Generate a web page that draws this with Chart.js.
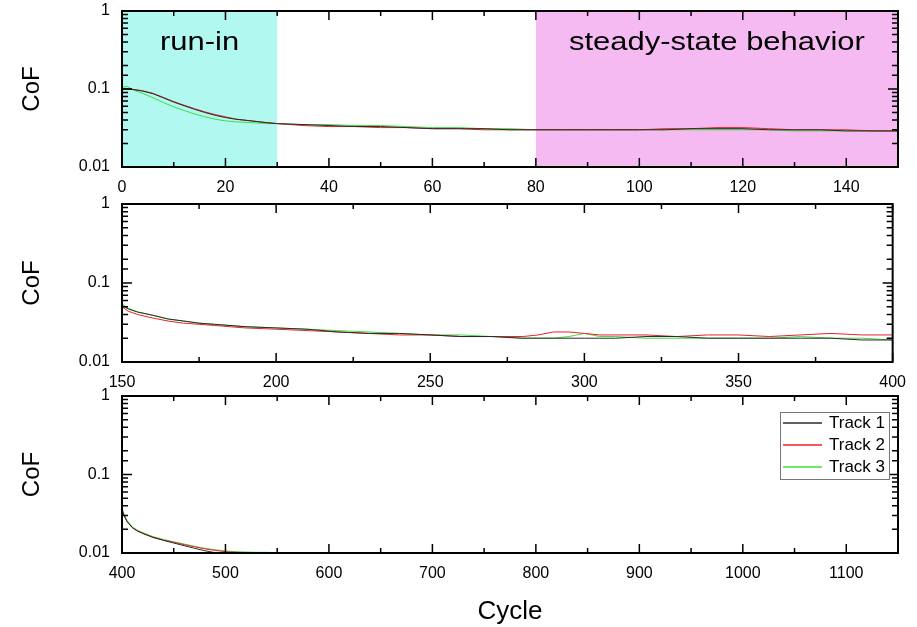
<!DOCTYPE html>
<html>
<head>
<meta charset="utf-8">
<script src="https://cdn.jsdelivr.net/npm/chart.js@4.4.1/dist/chart.umd.min.js"></script>
<style>
  html, body { margin: 0; padding: 0; background: #fff; }
  #wrap { position: relative; width: 917px; height: 627px; overflow: hidden; }
  #wrap canvas { position: absolute; left: 0; }
</style>
</head>
<body>
<div id="wrap">
  <canvas id="cof1" width="917" height="213" style="top:-13px"></canvas>
  <canvas id="cof2" width="917" height="212" style="top:180px"></canvas>
  <canvas id="cof3" width="917" height="255" style="top:372px"></canvas>
</div>
<script>
// --- cycles 0-150 ---
const cycles1 = [0, 1, 2, 4, 6, 8, 10, 12, 14, 16, 18, 20, 22, 25, 28, 30, 35, 40, 45, 50,
  55, 60, 65, 70, 75, 80, 85, 90, 95, 100, 105, 110, 115, 120, 125, 130, 135, 140, 145, 150];
const track1A = [0.100, 0.101, 0.099, 0.094, 0.087, 0.077, 0.068, 0.061, 0.055, 0.050,
  0.046, 0.043, 0.041, 0.039, 0.037, 0.036, 0.035, 0.034, 0.033, 0.033,
  0.032, 0.031, 0.031, 0.031, 0.030, 0.030, 0.030, 0.030, 0.030, 0.030,
  0.030, 0.031, 0.031, 0.031, 0.030, 0.030, 0.030, 0.029, 0.029, 0.029];
const track2A = [0.098, 0.100, 0.099, 0.095, 0.088, 0.078, 0.069, 0.062, 0.056, 0.051,
  0.047, 0.044, 0.041, 0.039, 0.037, 0.036, 0.034, 0.033, 0.033, 0.032,
  0.032, 0.031, 0.031, 0.030, 0.030, 0.030, 0.030, 0.030, 0.030, 0.030,
  0.031, 0.031, 0.032, 0.032, 0.031, 0.030, 0.030, 0.030, 0.029, 0.029];
const track3A = [0.104, 0.108, 0.098, 0.088, 0.077, 0.067, 0.059, 0.053, 0.048, 0.044,
  0.041, 0.039, 0.038, 0.037, 0.036, 0.036, 0.035, 0.035, 0.034, 0.034,
  0.033, 0.032, 0.032, 0.031, 0.031, 0.030, 0.030, 0.030, 0.030, 0.030,
  0.030, 0.030, 0.030, 0.030, 0.030, 0.029, 0.029, 0.029, 0.029, 0.029];

// --- cycles 150-400 ---
const cycles2 = [150, 152, 155, 160, 165, 170, 175, 180, 190, 200, 210, 220, 230, 240, 250,
  260, 270, 280, 285, 290, 295, 300, 305, 310, 320, 330, 340, 350, 360, 370, 380, 390, 400];
const track1B = [0.052, 0.047, 0.043, 0.039, 0.035, 0.033, 0.031, 0.030, 0.028, 0.027,
  0.026, 0.024, 0.023, 0.023, 0.022, 0.021, 0.021, 0.020, 0.020, 0.020,
  0.020, 0.020, 0.020, 0.020, 0.021, 0.021, 0.020, 0.020, 0.020, 0.020,
  0.020, 0.019, 0.019];
const track2B = [0.050, 0.044, 0.040, 0.036, 0.033, 0.031, 0.030, 0.029, 0.027, 0.026,
  0.025, 0.024, 0.023, 0.022, 0.022, 0.021, 0.021, 0.021, 0.022, 0.024,
  0.024, 0.023, 0.022, 0.022, 0.022, 0.021, 0.022, 0.022, 0.021, 0.022,
  0.023, 0.022, 0.022];
const track3B = [0.054, 0.048, 0.043, 0.039, 0.035, 0.033, 0.031, 0.030, 0.028, 0.027,
  0.026, 0.025, 0.024, 0.023, 0.022, 0.022, 0.021, 0.020, 0.020, 0.020,
  0.021, 0.023, 0.021, 0.021, 0.020, 0.020, 0.020, 0.020, 0.020, 0.021,
  0.020, 0.020, 0.019];

// --- cycles 400-1150 ---
const cycles3 = [400, 402, 405, 410, 415, 420, 430, 440, 450, 460, 470, 480, 490, 500,
  510, 520, 530, 540, 550, 560, 570];
const track1C = [0.036, 0.030, 0.025, 0.021, 0.019, 0.0178, 0.0158, 0.0145, 0.0134, 0.0124,
  0.0115, 0.0107, 0.0101, 0.0098, 0.0097, 0.0096, 0.0096, 0.0095, 0.0095, 0.0094, 0.0094];
const track2C = [0.034, 0.030, 0.025, 0.021, 0.019, 0.0178, 0.0158, 0.0146, 0.0137, 0.0128,
  0.0120, 0.0113, 0.0108, 0.0104, 0.0102, 0.0101, 0.0100, 0.0099, 0.0098, 0.0097, 0.0096];
const track3C = [0.038, 0.031, 0.026, 0.0215, 0.0195, 0.0182, 0.0162, 0.0149, 0.0139, 0.0130,
  0.0122, 0.0115, 0.0110, 0.0106, 0.0104, 0.0103, 0.0102, 0.0102, 0.0101, 0.0100, 0.0098];

const trackNames = ['Track 1', 'Track 2', 'Track 3'];
const yMajor = [0.01, 0.1, 1];
const runIn = [0, 30];
const steadyState = [80, 150];

const FONT = '"Liberation Sans", Arial, Helvetica, sans-serif';
const trackColors = ['#2b2b2b', '#e8232b', '#3fe03f'];

Chart.defaults.font.family = FONT;
Chart.defaults.color = '#000';

// shaded bands, inward ticks on all four sides, box frame, band captions, legend
const panelDecor = {
  id: 'panelDecor',
  beforeDatasetsDraw(chart, args, opts) {
    const { ctx, chartArea: a, scales: { x } } = chart;
    opts.bands.forEach(b => {
      const x0 = x.getPixelForValue(b.range[0]);
      const x1 = x.getPixelForValue(b.range[1]);
      ctx.save();
      ctx.fillStyle = b.color;
      ctx.fillRect(x0, a.top, x1 - x0, a.bottom - a.top);
      ctx.restore();
    });
  },
  afterDatasetsDraw(chart, args, opts) {
    const { ctx, chartArea: a, scales: { x, y } } = chart;
    ctx.save();
    ctx.strokeStyle = '#000';
    ctx.lineWidth = 1.5;
    ctx.beginPath();
    const majors = x.ticks.map(t => t.value);
    const minors = majors.map(v => v + opts.xStep / 2).filter(v => v < x.max);
    const xTick = (v, len) => {
      const px = x.getPixelForValue(v);
      ctx.moveTo(px, a.bottom); ctx.lineTo(px, a.bottom - len);
      ctx.moveTo(px, a.top); ctx.lineTo(px, a.top + len);
    };
    majors.forEach(v => xTick(v, 9));
    minors.forEach(v => xTick(v, 5));
    y.ticks.forEach(t => {
      const py = y.getPixelForValue(t.value);
      const len = t.label ? 10 : 6;
      ctx.moveTo(a.left, py); ctx.lineTo(a.left + len, py);
      ctx.moveTo(a.right, py); ctx.lineTo(a.right - len, py);
    });
    ctx.stroke();
    ctx.lineWidth = 2;
    ctx.strokeRect(a.left, a.top, a.right - a.left, a.bottom - a.top);
    ctx.restore();
  },
  afterDraw(chart, args, opts) {
    const { ctx, chartArea: a, scales: { x } } = chart;
    opts.bands.forEach(b => {
      const cx = (x.getPixelForValue(b.range[0]) + x.getPixelForValue(b.range[1])) / 2;
      ctx.save();
      ctx.translate(cx, a.top + 32);
      ctx.scale(1.19, 1);
      ctx.font = '26px ' + FONT;
      ctx.fillStyle = '#000';
      ctx.textAlign = 'center';
      ctx.textBaseline = 'middle';
      ctx.fillText(b.text, 0, 0);
      ctx.restore();
    });
    if (opts.legend) {
      const bx = a.right - 118, by = a.top + 16, bw = 109, bh = 67;
      ctx.save();
      ctx.fillStyle = '#fff';
      ctx.fillRect(bx, by, bw, bh);
      ctx.strokeStyle = '#777';
      ctx.lineWidth = 1;
      ctx.strokeRect(bx + 0.5, by + 0.5, bw, bh);
      ctx.font = '17px ' + FONT;
      ctx.textAlign = 'left';
      ctx.textBaseline = 'middle';
      chart.data.datasets.forEach((ds, i) => {
        const ry = by + 11 + i * 22;
        ctx.beginPath();
        ctx.strokeStyle = trackColors[i];
        ctx.lineWidth = 1.5;
        ctx.moveTo(bx + 3, ry);
        ctx.lineTo(bx + 42, ry);
        ctx.stroke();
        ctx.fillStyle = '#000';
        ctx.fillText(ds.label, bx + 49, ry);
      });
      ctx.restore();
    }
  }
};

function makeDatasets(cycles, series) {
  return series.map((vals, i) => ({
    label: trackNames[i],
    data: cycles.map((c, j) => ({ x: c, y: vals[j] })),
    borderColor: trackColors[i],
    borderWidth: 1,
    pointRadius: 0,
    tension: 0
  }));
}

function makePanel(id, cfg) {
  return new Chart(document.getElementById(id), {
    type: 'line',
    data: { datasets: makeDatasets(cfg.cycles, cfg.series) },
    options: {
      responsive: false,
      animation: false,
      events: [],
      // top padding is larger than the y labels need, so the plot box starts exactly there
      layout: { padding: { top: 24, right: 19, left: 0, bottom: 0 } },
      plugins: {
        legend: { display: false },
        tooltip: { enabled: false },
        panelDecor: { xStep: cfg.xStep, bands: cfg.bands || [], legend: !!cfg.legend }
      },
      scales: {
        x: {
          type: 'linear',
          min: cfg.xRange[0],
          max: cfg.xRange[1],
          grid: { display: false, drawTicks: false },
          border: { display: false },
          ticks: { stepSize: cfg.xStep, includeBounds: false, autoSkip: false, maxRotation: 0,
            padding: 11, font: { size: 16 }, callback: v => String(v) },
          title: {
            display: !!cfg.xTitle,
            text: cfg.xTitle || '',
            font: { size: 26 },
            padding: { top: 4, bottom: 0 }
          },
          afterFit(s) { s.height = cfg.xHeight; }
        },
        y: {
          type: 'logarithmic',
          min: 0.01,
          max: 1,
          grid: { display: false, drawTicks: false },
          border: { display: false },
          ticks: {
            autoSkip: false,
            padding: 12,
            font: { size: 16 },
            callback: v => {
              const m = yMajor.find(t => Math.abs(v / t - 1) < 1e-6);
              return m !== undefined ? String(m) : '';
            }
          },
          title: { display: true, text: 'CoF', font: { size: 24 }, padding: { top: 18 } },
          afterFit(s) { s.width = 122; }
        }
      }
    },
    plugins: [panelDecor]
  });
}

makePanel('cof1', {
  cycles: cycles1, series: [track1A, track2A, track3A],
  xRange: [0, 150], xStep: 20, xHeight: 33,
  bands: [
    { range: runIn, color: '#b0f8f0', text: 'run-in' },
    { range: steadyState, color: '#f6baf3', text: 'steady-state behavior' }
  ]
});
makePanel('cof2', {
  cycles: cycles2, series: [track1B, track2B, track3B],
  xRange: [150, 400], xStep: 50, xHeight: 30
});
makePanel('cof3', {
  cycles: cycles3, series: [track1C, track2C, track3C],
  xRange: [400, 1150], xStep: 100, xHeight: 74,
  xTitle: 'Cycle', legend: true
});
</script>
</body>
</html>
